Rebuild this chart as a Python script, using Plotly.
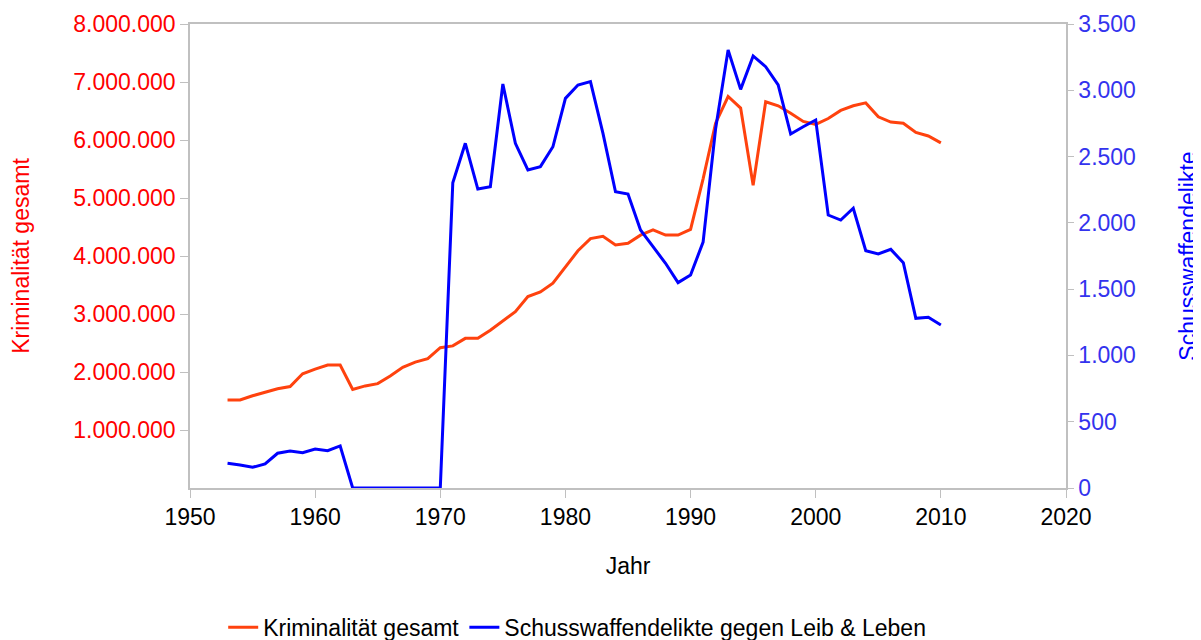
import plotly.graph_objects as go

years = list(range(1953, 2011))

kriminalitaet = [
    1517000, 1517000, 1590000, 1650000, 1710000, 1750000, 1970000, 2050000, 2120000, 2120000,
    1700000, 1760000, 1800000, 1930000, 2080000, 2170000, 2230000, 2420000, 2450000, 2580000,
    2580000, 2720000, 2880000, 3040000, 3300000, 3380000, 3530000, 3820000, 4090000, 4300000,
    4340000, 4190000, 4220000, 4360000, 4450000, 4360000, 4360000, 4460000, 5330000, 6290000,
    6750000, 6550000, 5220000, 6660000, 6590000, 6460000, 6320000, 6270000, 6370000, 6510000,
    6590000, 6640000, 6400000, 6310000, 6290000, 6130000, 6070000, 5950000,
]

schusswaffen = [
    186, 174, 156, 181, 262, 279, 266, 294, 281, 317,
    0, 0, 0, 0, 0, 0, 0, 0, 2303, 2600,
    2255, 2273, 3047, 2600, 2399, 2424, 2574, 2939, 3040, 3065,
    2675, 2235, 2218, 1946, 1820, 1695, 1549, 1607, 1855, 2710,
    3304, 3007, 3259, 3178, 3040, 2670, 2725, 2776, 2059, 2021,
    2110, 1790, 1765, 1800, 1699, 1280, 1288, 1230,
]

left_ticks = [1000000, 2000000, 3000000, 4000000, 5000000, 6000000, 7000000, 8000000]
right_ticks = [0, 500, 1000, 1500, 2000, 2500, 3000, 3500]
x_ticks = [1950, 1960, 1970, 1980, 1990, 2000, 2010, 2020]

FONT = "Liberation Sans, Arial, sans-serif"
GRID = "#c0c0c0"
FS = 23

fig = go.Figure()
fig.add_trace(go.Scatter(
    x=years, y=kriminalitaet, mode="lines", name="Kriminalität gesamt",
    line=dict(color="#ff420e", width=3), yaxis="y",
))
fig.add_trace(go.Scatter(
    x=years, y=schusswaffen, mode="lines", name="Schusswaffendelikte gegen Leib & Leben",
    line=dict(color="#0000ff", width=3), yaxis="y2",
))

fig.update_layout(
    width=1193, height=632,
    margin=dict(l=182, r=135, t=16, b=152, autoexpand=False),
    paper_bgcolor="white", plot_bgcolor="white",
    separators=",.",
    font=dict(family=FONT, size=FS, color="black"),
    showlegend=True,
    legend=dict(orientation="h", x=0.442, xanchor="center", y=-0.30, yanchor="middle",
                font=dict(size=FS, color="black"), itemwidth=30, traceorder="normal"),
    xaxis=dict(
        range=[1950, 2020], tickvals=x_ticks, ticks="outside", ticklen=8, tickcolor=GRID,
        showline=True, linecolor=GRID, linewidth=1.5, mirror=True, showgrid=False, zeroline=False,
        automargin=False,
        tickfont=dict(size=FS, color="black"),
        title=dict(text="Jahr", font=dict(size=FS, color="black"), standoff=29),
    ),
    yaxis=dict(
        range=[0, 8000000], tickvals=left_ticks, tickformat=",d", ticks="outside", ticklen=8,
        tickcolor=GRID, showline=True, linecolor=GRID, linewidth=1.5, showgrid=False, zeroline=False,
        automargin=False,
        tickfont=dict(size=FS, color="#ff0000"),
        title=dict(text="Kriminalität gesamt", font=dict(size=FS, color="#ff0000"), standoff=50),
    ),
    yaxis2=dict(
        range=[0, 3500], tickvals=right_ticks, tickformat=",d", overlaying="y", side="right",
        ticks="outside", ticklen=6, tickcolor=GRID, showline=True, linecolor=GRID, linewidth=1.5,
        showgrid=False, zeroline=False, automargin=False,
        tickfont=dict(size=FS, color="#3333ee"),
        title=dict(text="Schusswaffendelikte", font=dict(size=FS, color="#0000ff"), standoff=47),
    ),
)

fig.write_html("out.html")
